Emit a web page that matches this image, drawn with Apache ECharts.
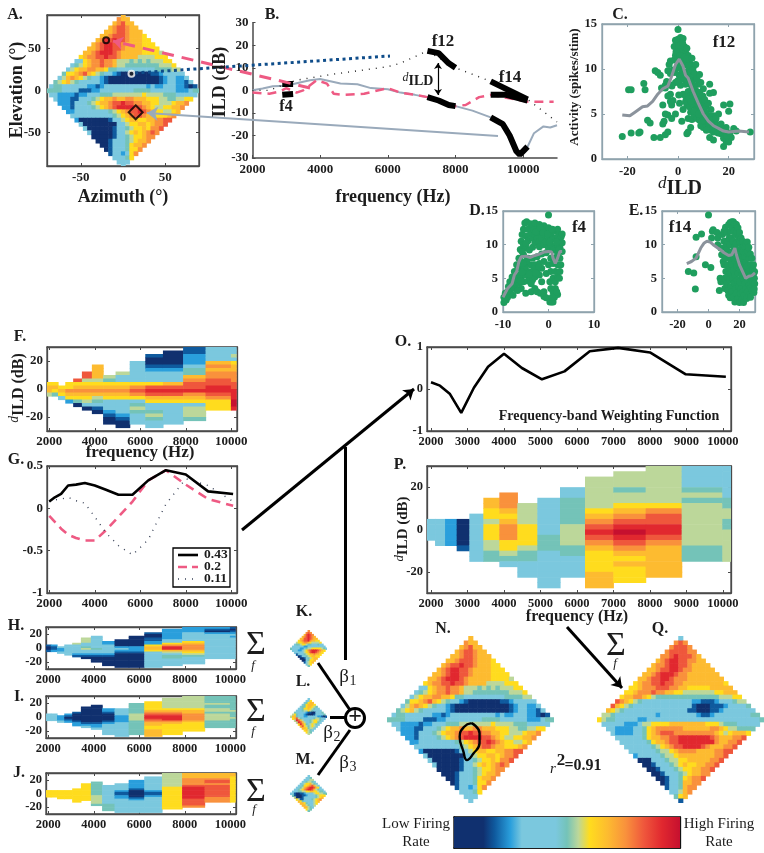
<!DOCTYPE html>
<html><head><meta charset="utf-8">
<style>html,body{margin:0;padding:0;background:#fff}#c{width:764px;height:853px;filter:blur(0.4px)}</style>
<script src="https://cdn.jsdelivr.net/npm/echarts@6/dist/echarts.min.js"></script>
</head><body><div id="c"></div>
<script>
// ---------- DATA ----------
var palette=['#10306f','#0f5a9e','#2a9fdc','#7bc8de','#74c3b8','#bcd79a','#ffdc1e','#fdbb30','#f9913c','#ef573c','#e1282f','#c6102f'];
var bandCenters=[2000,2245,2520,2828,3175,3563,4000,4490,5040,5657,6350,7127,8000,8980,10079];
var bandEdges=[1880,2110,2384,2703,3050,3434,3872,4365,4913,5534,6219,6995,7881,8868,9982,10210];
// spatial maps: rows from elevation +90 to -90
var mapA=["7","877","78977","7899877","778998777","77899987776","7899a99877766","789aa9987777666","7789aa99877776666","7789aaa987777766665","678899a99877775555666",
"33678898875554545455566","3456788988755444444445556","356778877644333333333444455","46678976543321000000011233333",
"3578765433210000000000001233223","456754333332100000000000012332213","34433333322123333333333232233322101","4444333311122333333334444333333222344",
"33222212233344455555556555544433333","322211333456778778877766655445566","2221333456778 99a99887766555 6778".replace(/ /g,''),"22133334567 89aaaa99876 5566778".replace(/ /g,''),"22333333334567899a987665567","3333333333456789987766678",
"20000000133567766778899","300000000335667767889","3000000133456676889","30000013356767898","000001334566788","0001333456778","00133346778","013334668","1332368","33346","333","3"];
var mapQ=["3","898","89998","8999988","889a99987","789aa998877","7889aa9987777","77899aa98877777","7789aaa9887777777","77899aa988877777777","678899a99887777777776",
"66788899988776666677777","6678889887766555555566777","677887654444444444444455566","98765433333333333221112333455",
"9765433333333333331000111233334","7654333333333333331100011233333","55433333333323333333321123333333 34".replace(/ /g,''),"6544333332233333333333333333333333334",
"33333222355666677777777666544433333","332222334678888887777778876554444","3222233467899988888888876567776","33333346778899aaaaaaa98777889",
"3333334677899aaaaaaaa877889","3333334567899aaaa98777889","33333345567888877778899","233333455677777777889",
"0003334556677777889","00133345676677889","001333456677889","0013334567788","00133467889","013347788","1334788","33578","467","1"];
var mapK=["8","898","79a98","789a987","7799a9877","67899a87766","5667887655556","344566544333433","33333322333333333","4333322345566666543","33322356 89aaa9876".replace(/ /g,''),"333335679aa9876","1333456778776","01334567766","001345677","0034667","13567","356","4"];
var mapL=["3","336","34677","3467776","344677654","33466765433","3334556543333","433333211003334","56433321000133334","5774333223333322101","67954333333455433","5a9753334566543","5a97533456643","6a864356543","796545653","7764553","67543","654","5"];
var mapM=["3","334","33355","3345543","335667543","33466789753","3345789aa9763","33456 89aa975433".replace(/ /g,''),"33344556677665443","3310011233335665544","41000112333345666","500013333334567","6511333345678","76433333567","776433356","7754335","77543","654","4"];
// spectral panels: one string per band, cells of 2.5 dB from +30 to -30
var specF=["..........6775..........","..........6764..........","...........6763.........","..........668762........",".........96787640.......",".......99567876530......",".....77775678754310.....","........54678763332100..",".......5336787633332100.","....333333689863454333..","..1001233369a9763345433.",".00001233379a976333333..","112223447899a87635554...","33337878899aa98666......","335367788899aaabba......"];
var specH=["..........1001..........","..........2112..........","...........3223.........","..........333333........",".........53333321.......","......555334533210......",".....333333343321000....","........22333332100000..",".......0000232100000000.",".....000000222100000000.","...10011226776333333333.",".2222223368aa753443333..","222333336788876543333...","210233333333333333......","101232333333333333......"];
var specI=["..........3333..........","..........3333..........","...........2223.........","..........21012.........",".........10000122.......","......000000000123......",".....00000000001223.....",".......221000012333333..",".......3333222233333333.","....444444555544444444..","...66666789aa9877667777.",".5555556789aaa87666666..","55555556778888766666....","444454455455554444......","444444445444544444......"];
var specJ=["..........6666..........","..........6666..........","..........66666.........","..........66666.........",".........66666666.......","......6666666666........",".....44444444555554.....",".......333333333334444..","......33332112233333333.","....2222210000123333333.","..333333332112333333333.","555555556666666666666...","77788889aaaaaaa99998....","77789989999999888.......","77666666666666666......."];
var specP=["..........3333..........","..........33333.........","..........22222.........","..........000001........",".........333333333......","......776656665544......",".....88876788866543.....",".......55556666544333...","......33333334443333333.","....33444445555443333...","..5555556789a9876666777.",".5554556789aba98767666..","55555556899aa98777777...","333345455555555444......","333333445544555555......"];
// weighting functions
var basisBlack=[.08,.13,.17,.27,.28,.30,.27,.22,.16,.16,.33,.45,.40,.20,.17];
var basisPink=[-.09,-.16,-.24,-.31,-.35,-.38,-.38,-.26,-.10,.08,.33,.45,.28,.11,.03];
var basisDot=[.08,.10,.11,.13,.09,.06,-.10,-.29,-.44,-.55,-.37,.05,.35,.27,.08];
var weighting=[.16,.08,-.12,-.57,.03,.53,.84,.50,.23,.42,.90,.98,.87,.35,.29];
var legendNames=['0.43','0.2','0.11'];
// panel B spectra
var ildGray=[[2000,0],[2300,.8],[2600,1.8],[3000,2],[3400,3.5],[3700,4.5],[4000,5],[4300,4],[4600,3],[5100,2.7],[5500,1],[6000,.5],[6370,-1],[6800,-2],[7170,-3],[7500,-4.5],[7800,-6.5],[8000,-7],[8500,-9],[9040,-12],[9400,-15],[9600,-20],[9800,-27],[9900,-28.5],[10130,-25],[10320,-19],[10600,-16],[10800,-16.5],[11000,-15.5]];
var ildPink=[[2000,-1],[2500,-1.5],[2800,-.5],[3000,1],[3300,-1],[3500,0],[3900,4.5],[4200,3],[4400,-1.5],[4700,-2],[5300,-1.5],[6000,1],[6370,-1],[6800,-2],[7170,-3],[8000,-7],[8300,-6.5],[8700,-3],[9040,-2],[10130,-5],[10400,-5],[10900,-5]];
var ildDot=[[2000,0],[2500,0],[3000,3],[3300,4.5],[4400,7.2],[6000,10.5],[6370,12],[7170,17.5],[8000,10],[9040,4],[10130,-4],[11000,-14]];
var segF4a=[[2880,2.8],[3200,2.8]], segF4b=[[2880,-2],[3200,-1.6]];
var segF12a=[[7170,17.5],[7500,16.5],[7800,12],[8000,10]], segF12b=[[7170,-3],[7500,-4.5],[7800,-6.5],[8000,-7]];
var segF14a=[[9040,4],[10130,-4]], segF14b=[[9040,-2],[9500,-2],[10130,-4.5]], segF14c=[[9040,-12],[9400,-15],[9600,-20],[9800,-27],[9900,-28.5],[10130,-25]];
// scatter panels
var scatterC=[[-22,2.5],[-18.5,2.9],[-15.5,2.9],[-15,3],[-19.5,7.7],[-18.5,7.7],[-13.5,8.4],[-13,7.7],[-12,4.3],[-11,4],[-9.5,2.4],[-9,9.8],[-8,9.6],[-7,9.3],[-7,2.4],[-6,6],[-6,3.9],[-5,2.7],[-5.5,4.2],[-5,7.9],[-5,5],[-4.5,8.6],[-4,4.9],[-4,3],[-3.5,10.5],[-3,10.9],[-3,9.5],[-3,7.2],[-2.5,6],[-2.5,4.5],[-2,6.5],[-2,9.9],[-1.5,11],[-1,11.5],[-1,8.5],[-1,5],[-4,7],[-3,6.4],[-4,9.8],[-5,8.2],[-6.5,7.9],[0,14.4],[-1,13.2],[-.5,12.8],[0,13.3],[.5,13],[1,13.5],[1.5,12.8],[2,13.4],[-.5,12],[.5,12.2],[1.5,11.8],[2,12.2],[2.5,12.5],[3,11.8],[0,11],[1,10.5],[2,10.8],[3,10.5],[4,11.5],[4.5,11],[5,10.5],[3,9.5],[4,9.8],[5,9.6],[6,10.2],[.5,9.3],[1,8.2],[2,8.9],[3,8.3],[4,8.5],[5,8.3],[6,8.8],[7,9.2],[8,8.3],[9,8.5],[2,7.2],[3,7],[4,7.5],[5,7],[6,7.2],[7,7.6],[8,7],[9.5,6.9],[12.5,8.3],[12.5,7.3],[14,7.4],[10,7.8],[3.5,6],[4.5,5.8],[5,5.2],[6,6],[7,5.5],[8,6],[9,5.5],[10,6],[11,5.8],[12,6.2],[13,5.5],[14,4.8],[2,5.5],[1.5,4.2],[4,4.5],[5,3.5],[4,3],[3.5,2.8],[5.5,4.4],[6.5,4.8],[7.5,4.5],[8.5,4.3],[9.5,4.8],[10.5,5],[11.5,4.5],[12.5,4.8],[13.5,4],[14.5,4.3],[15.5,3.8],[9,3.7],[10,3.5],[11,3.8],[12,3.5],[13,3.2],[14,3],[15,3.2],[16,3.5],[12.5,2.4],[14,2.1],[17,2.8],[18,2.3],[18,1.4],[19,2],[20,1.9],[21,2.4],[22,3.4],[23,3.1],[18,6],[20.5,6.1],[20,5.3],[16,5],[19,3.5],[28.5,3],
[-1.5,12.5],[-.8,11.9],[.8,11.5],[1.2,11],[2.5,11.3],[3.5,12.3],[3.5,11.1],[4.2,10.4],[5.5,11.2],[5.8,9.9],[6.5,9.5],[7,10.5],[7.5,8.9],[8.5,9.4],[1.5,9.9],[2.5,9.4],[3.5,8.9],[4.5,9],[5.5,7.9],[6.5,8.1],[7.5,6.5],[8.5,7.4],[9,6.3],[9.8,7],[10.5,6.6],[11,5.1],[3,6.4],[4.2,6.7],[5.2,6.4],[6.4,5.3],[7.2,6.6],[8.2,5],[9.4,4.2],[10.2,4.3],[11.2,3.2],[12.2,4.1],[13,4.4],[14.2,3.6],[15,4.5],[15.8,2.9],[16.5,3],[17.5,3.2],[17,3.9],[19.2,2.6],[20.5,2.9],[.2,12.6],[.9,12.6],[1.8,12.9],[-.2,10.1],[-.1,8.7],[.3,7.1],[.6,6.2],[-1.2,9.6],[-2.4,8.1],[-3.5,8.3]];
var curveC=[[-22,4.9],[-19,4.8],[-17,5.2],[-14,5.8],[-12,5.9],[-10,6.4],[-8,7.2],[-6,7.8],[-4,8.1],[-2.5,9.2],[-1,10.5],[.5,11.1],[2,10.3],[3,9.3],[4,9],[6,7.5],[8,6.2],[10,5],[12,4.2],[14,3.7],[16,3.4],[18,3.1],[20,3],[24,3.1],[28,3]];
var scatterD=[[-9.8,1.4],[-9.8,2.2],[-9.5,2.8],[-9.3,1.8],[-9,3],[-9,2.2],[-8.8,3.8],[-8.5,3],[-8.5,4.5],[-8,5.2],[-8,4],[-7.8,2.5],[-7.5,6],[-7.5,3.5],[-7.2,5],[-7,7],[-7,4.2],[-6.8,5.5],[-6.5,8],[-6.5,6.5],[-6.5,4.3],[-6.2,9.3],[-6,10.5],[-6,7.5],[-6,5.2],[-6,3.5],[-5.8,11.5],[-5.5,12.3],[-5.5,10],[-5.5,8.5],[-5.5,6.3],[-5.5,4.5],[-5.2,13.2],[-5,11.3],[-5,9.5],[-5,7],[-5,5.5],[-5,2.8],[-4.8,13.4],[-4.5,12.3],[-4.5,10.6],[-4.5,8],[-4.5,6],[-4.5,4.6],[-4,13.1],[-4,11.5],[-4,7],[-4,5],[-3.8,3],[-3.5,12.7],[-3.5,11],[-3.5,9.6],[-3.5,8],[-3.5,6],[-3.5,4.8],[-3,13.2],[-3,11.5],[-3,10.3],[-3,7],[-3,5.2],[-3,3.5],[-2.5,12.5],[-2.5,11],[-2.5,8.2],[-2.5,6.2],[-2.5,3],[-2,13],[-2,11.8],[-2,10.5],[-2,9.7],[-2,7.2],[-2,5.5],[-1.8,2.8],[-1.5,12.3],[-1.5,11],[-1.5,8.6],[-1.5,6.5],[-1.5,4.5],[-1,12.8],[-1,11.5],[-1,10],[-1,7.5],[-1,3],[-1,2.3],[-.5,12],[-.5,10.5],[-.5,8.8],[-.5,5.7],[-.5,2.1],[0,14.4],[0,12.5],[0,11],[0,9.5],[0,7],[.3,4.5],[.3,1.5],[.5,11.5],[.5,10],[.5,8],[.5,6],[.5,3.5],[.7,1.5],[1,12.2],[1,10.8],[1,9.2],[1,7.2],[1,5],[1,3],[1,1.5],[1.3,2.2],[1.5,12],[1.5,11],[1.5,9.5],[1.5,8],[1.5,6],[1.5,4.5],[1.5,3.5],[2,12.3],[2,11],[2,10],[2,8.6],[2,7],[2,5.2],[2,2.6],[2.3,11.5],[2.5,10.8],[2.5,9.6],[2.5,8],[2.5,6],[2.8,11.2],[3,10.3],[3,9],[3,11.6],[-7.5,4.8],[-6.8,3.2],
[-5.2,6.7],[-4.8,7.6],[-4.2,5.6],[-3.2,6.4],[-3.8,4.2],[-6.2,4.6],[-5.8,5.9],[-5.6,7.2],[-5.8,9],[-4.9,10.2],[-4.2,9.2],[-3.2,12.2],[-2.8,11.9],[-1.8,12.5],[-1.2,11.8],[-.2,11.6],[.2,10.4],[.8,12.3],[1.8,10.4],[2.2,9.2],[2.7,7],[2.4,5],[1.8,3],[.8,2.2],[-2.2,6.7],[-2.8,5.8]];
var curveD=[[-10,2.2],[-9,3.5],[-8,4.2],[-7.5,5.5],[-7,6],[-6.5,7.5],[-6,8.2],[-5,8.3],[-4,8.1],[-3,8.4],[-2,8.6],[-1,8.9],[0,9],[.7,8.9],[1,8],[1.5,7.2],[2,8],[2.5,9],[3,9]];
var scatterE=[[-13,6],[-9.5,5.8],[-8.5,3.4],[-8,8.2],[-8,11.1],[-4.5,11.6],[-2,7],[0,14.4],[1.5,6.6],[2,11],[2.5,12],[3,12.2],[5.5,11.8],[6,11],[6,10],[7,3.2],[8,4.5],[7.5,5],[8,9.5],[8.5,8.5],[9,11.5],[9.5,7.5],[10,12],[10,10.5],[10,7],[10.5,5],[10.5,3.5],[11,12.6],[11.4,9.8],[10.8,8],[11.2,6],[11.6,4.2],[12,11.8],[12.4,10.6],[11.8,9.2],[12.3,7],[12.1,5.2],[12.5,3.2],[13,13],[13.4,11],[12.9,8.5],[13.2,6.5],[13.6,4.8],[13,2.5],[14,13.3],[14.3,12],[13.9,10],[14.4,7.8],[14.1,5.8],[14.5,3.8],[14,2.1],[15,13.4],[15.4,12.5],[14.8,11],[15.3,9],[15.1,7],[15.5,5],[15.2,3],[16,13.4],[16.4,12],[15.9,10.5],[16.3,8.2],[16.1,6.2],[16.6,4.3],[16,2.2],[17,13.1],[17.5,11.5],[16.8,9.6],[17.3,7.5],[17.1,5.5],[17.6,3.5],[17,1.5],[18,13],[18.4,12],[17.9,10.2],[18.3,8.8],[18.1,6.8],[18.6,4.7],[18,2.8],[19,12.5],[19.4,11],[18.9,9.3],[19.3,7.6],[19.1,5.8],[19.6,3.8],[19,2],[20,11.8],[20.4,10.3],[19.9,8.5],[20.3,6.3],[20.1,4.5],[20.6,2.8],[20,1.4],[21,11],[21.4,9.5],[20.9,7.7],[21.3,5.4],[21.1,3.5],[21.6,1.9],[22,10.5],[22.4,9],[21.9,7],[22.3,5],[22.1,3],[22.6,1.4],[23,9.8],[23.4,8.2],[22.9,6.2],[23.3,4.2],[23.1,2.5],[24,10.2],[24.4,8.8],[23.9,7.3],[24.3,5.3],[24.1,3.4],[24.6,2],[25,10.4],[25.4,9],[24.9,6.8],[25.3,4.6],[25.1,3],[26,9.6],[26.4,8],[25.9,6],[26.3,4],[26.1,2.5],[27,8.6],[27.4,7],[26.9,5.4],[27.3,3.6],[27.1,2.2],[28,8],[28.4,6.4],[27.9,5],[28.3,3.2],[29,7],[29.3,5.8],[28.9,4.4],[29.3,2.9],[29.7,6],[29.6,5],[29.8,4.2],[29.5,3.4]];
var curveE=[[-14,7.2],[-11,7.5],[-8,8],[-5,9.5],[-3,10.2],[-1,10.5],[1,10.4],[3,10],[6,9.5],[8,9.2],[10,8.8],[11,8.6],[13,8.4],[15,8.5],[16,8.3],[17,9.5],[18,8.5],[20,7],[22,6],[24,5],[26,5.3],[28,5.4],[30,5.8]];
var markers=[[-20,60],[10,20],[15,-26]];
var contourN=[[1.3,-4],[10,-15],[10,-26],[3,-38],[-4,-45],[-8,-35],[-12,-19],[-7,-8],[1.3,-4]];
var colorbarStops=[[0,0],[.13,0],[.18,1],[.25,2],[.3,3],[.45,3],[.5,4],[.55,5],[.6,6],[.68,7],[.76,8],[.84,9],[.92,10],[1,11]];
var colorbarTicks=[.143,.3,.455,.61,.765,.925];

// ---------- LAYOUT & HELPERS ----------
var SERIF='"Liberation Serif","DejaVu Serif",serif', INK='#1c1c1c', FRAME='#4a4a4a', SLATE='#8fa3ad';
var grids=[],xAxes=[],yAxes=[],series=[],graphics=[],mirrors=[];
var f2k=[2000,4000,6000,8000,10000], f1k=[2000,3000,4000,5000,6000,7000,8000,9000,10000];
function axis(min,max,ticks,opt){opt=opt||{};var c=opt.color||FRAME;return {type:'value',min:min,max:max,inverse:!!opt.inverse,show:opt.show!==false,position:opt.position,
  axisLine:{show:true,onZero:false,lineStyle:{color:c,width:opt.lw||1.3}},
  axisTick:{show:true,inside:true,length:opt.tick||3,customValues:ticks,lineStyle:{color:c}},
  axisLabel:{show:opt.labels!==false,customValues:ticks,margin:opt.margin==null?4:opt.margin,fontFamily:SERIF,fontWeight:'bold',fontSize:opt.fs||12.5,color:INK,formatter:function(v){return String(v)}},
  splitLine:{show:false}};}
function panel(r,xa,ya,borderColor){var i=grids.length;
  grids.push({left:r[0],top:r[1],width:r[2]-r[0],height:r[3]-r[1],show:!!borderColor,borderColor:borderColor||'transparent',borderWidth:1.3,backgroundColor:'transparent',containLabel:false});
  xa.gridIndex=i;ya.gridIndex=i;xAxes.push(xa);yAxes.push(ya);
  if(borderColor)mirrors.push(i);
  return i;}
function cellRender(p,api){var a=api.coord([api.value(0),api.value(2)]),b=api.coord([api.value(1),api.value(3)]);
  return {type:'rect',shape:{x:a[0],y:a[1],width:b[0]-a[0]+.6,height:b[1]-a[1]+.6},style:{fill:palette[api.value(4)]}};}
function cells(i,data){series.push({type:'custom',xAxisIndex:i,yAxisIndex:i,clip:true,silent:true,animation:false,renderItem:cellRender,encode:{x:[0,1],y:[2,3]},data:data});}
function diamondCells(rows,step){var out=[];rows.forEach(function(s,r){var e=90-r*step,h=90-Math.abs(e),n=2*h/step+1;
  for(var j=0;j<n;j++){var ch=s[j]||s[s.length-1],az=-h+j*step;out.push([az-step/2,az+step/2,e+step/2,e-step/2,parseInt(ch,16)]);}});return out;}
function specCells(cols){var out=[];cols.forEach(function(s,b){for(var k=0;k<24;k++){var ch=s[k];if(!ch||ch=='.')continue;
  out.push([bandEdges[b],bandEdges[b+1],30-2.5*k,30-2.5*(k+1),parseInt(ch,16)]);}});return out;}
function line(i,data,color,width,type,name,z){series.push({type:'line',name:name,xAxisIndex:i,yAxisIndex:i,data:data,showSymbol:false,symbol:'none',silent:true,animation:false,z:z||3,
  lineStyle:{color:color,width:width,type:type||'solid',cap:'butt'},itemStyle:{color:color}});}
function withBands(v){return bandCenters.map(function(f,i){return [f,v[i]]});}
function txt(s,x,y,o){o=o||{};graphics.push({type:'text',x:x,y:y,rotation:o.rot||0,z:100,silent:true,style:{text:s,fill:o.fill||INK,textAlign:o.align||'center',textVerticalAlign:'middle',rich:o.rich,
  font:(o.italic?'italic ':'')+(o.weight||'bold')+' '+(o.fs||16)+'px '+SERIF}});}
function dIld(x,y,fs,tail,rot){var rich={d:{fontFamily:SERIF,fontStyle:'italic',fontSize:fs*.85,verticalAlign:'top',fill:INK,lineHeight:fs*1.2},i:{fontFamily:SERIF,fontWeight:'bold',fontSize:fs,verticalAlign:'bottom',fill:INK,lineHeight:fs*1.2}};
  txt('{d|d}{i|ILD'+(tail||'')+'}',x,y,{rich:rich,rot:rot||0,fs:fs});}
function seg(x1,y1,x2,y2,stroke,lw){graphics.push({type:'line',z:101,silent:true,shape:{x1:x1,y1:y1,x2:x2,y2:y2},style:{stroke:stroke,lineWidth:lw.w,lineDash:lw.d||null}});}

// ---------- PANELS ----------
// A
var pA=panel([47,15,199,166],axis(-90,90,[-50,0,50],{fs:13,margin:5}),axis(-90,90,[-50,0,50],{fs:13,margin:6}),FRAME);
cells(pA,diamondCells(mapA,5));
series.push({type:'scatter',xAxisIndex:pA,yAxisIndex:pA,silent:true,animation:false,z:6,data:[
 {value:markers[0],symbol:'circle',symbolSize:6,itemStyle:{color:'#e1282f',borderColor:'#000',borderWidth:2}},
 {value:markers[1],symbol:'circle',symbolSize:6,itemStyle:{color:'#222',borderColor:'#fff',borderWidth:2}},
 {value:markers[2],symbol:'diamond',symbolSize:14,itemStyle:{color:'rgba(0,0,0,0)',borderColor:'#000',borderWidth:2}}]});
// B
var pB=panel([252.5,22.7,557,158],axis(2000,11000,f2k,{fs:13,margin:5,lw:1.5}),axis(-30,30,[-30,-20,-10,0,10,20,30],{fs:13,margin:4,lw:1.5}));
line(pB,ildGray,'#9aaabb',2);
line(pB,ildPink,'#ee5a83',2.5,[9,6]);
line(pB,ildDot,'#222',1.4,[1,6]);
[segF4a,segF4b,segF12a,segF12b,segF14a,segF14b,segF14c].forEach(function(s){line(pB,s,'#000',6,'solid',undefined,5);});
// C D E
function scatPanel(r,xmin,xmax,xt,pts,curve){var p=panel(r,axis(xmin,xmax,xt,{color:SLATE,fs:12.5,margin:6}),axis(0,15,[0,5,10,15],{color:SLATE,fs:12.5,margin:5}),SLATE);
  series.push({type:'scatter',xAxisIndex:p,yAxisIndex:p,data:pts,symbolSize:7,silent:true,animation:false,itemStyle:{color:'#1f9e5e',opacity:1}});
  line(p,curve,'#8b939c',3,'solid',undefined,4);}
scatPanel([602,24,754,159],-30,30,[-20,0,20],scatterC,curveC);
scatPanel([503,211,594,312],-10,10,[-10,0,10],scatterD,curveD);
scatPanel([662,211,755,312],-30,30,[-20,0,20],scatterE,curveE);
// F H I J P
function specPanel(r,cols,xmin,xmax,xt,yt,fs){var p=panel(r,axis(xmin,xmax,xt,{fs:fs||12.5}),axis(-30,30,yt,{fs:fs||12.5}),FRAME);cells(p,specCells(cols));return p;}
specPanel([47,347,237,431],specF,1900,10250,f2k,[-20,0,20],13);
specPanel([46,627,236,669],specH,1900,10250,f2k,[-20,0,20],12.5);
specPanel([46,696,236,738],specI,1900,10250,f2k,[-20,0,20],12.5);
specPanel([46,773,236,814],specJ,1900,10250,f2k,[-20,0,20],12.5);
specPanel([427,466,731,593],specP,1890,10220,f1k,[-20,0,20],12.5);
// G
var pG=panel([47,466,237,593],axis(1900,10250,f2k,{fs:13}),axis(-1,.5,[-1,-.5,0,.5],{fs:13}),FRAME);
line(pG,withBands(basisBlack),'#000',2.6,'solid',legendNames[0],4);
line(pG,withBands(basisPink),'#ee5a83',2.6,[9,6],legendNames[1],3);
line(pG,withBands(basisDot),'#3a4358',1.4,[1,6],legendNames[2],3);
// O
var pO=panel([427,347,731,431],axis(1890,10220,f1k,{fs:12.5}),axis(-1,1,[-1,0,1],{fs:12.5}),FRAME);
line(pO,withBands(weighting),'#000',2.6);
// diamonds
function diamond(cx,cy,half,rows,step){var d=step/2,p=panel([cx-half,cy-half,cx+half,cy+half],axis(-90-d,90+d,[],{show:false}),axis(-90-d,90+d,[],{show:false}));cells(p,diamondCells(rows,step));return p;}
var pN=diamond(470.5,719.5,83.5,mapA,5);
diamond(680.5,719.5,83.5,mapQ,5);
diamond(308.5,648.5,18.5,mapK,10);
diamond(308.5,716.5,18.5,mapL,10);
diamond(308.5,793.5,18.5,mapM,10);
line(pN,contourN,'#000',2.4,'solid',undefined,6);
series[series.length-1].smooth=true;
// colour bar
var pBar=panel([454,817,680,848],axis(0,1,colorbarTicks,{labels:false,color:'#111',tick:3,lw:1.5}),axis(0,1,[],{labels:false,color:'#111'}),'#111');
series.push({type:'custom',xAxisIndex:pBar,yAxisIndex:pBar,silent:true,animation:false,encode:{x:0,y:1},data:[[0,0]],renderItem:function(p,api){
  var a=api.coord([0,1]),b=api.coord([1,0]);
  return {type:'rect',shape:{x:a[0],y:a[1],width:b[0]-a[0],height:b[1]-a[1]},style:{fill:new echarts.graphic.LinearGradient(0,0,1,0,colorbarStops.map(function(s){return {offset:s[0],color:palette[s[1]]}}))}};}});
// overlay for connectors: pixel-scale hidden axes
var pOv=panel([0,0,764,853],axis(0,764,[],{show:false}),axis(0,853,[],{show:false,inverse:true}));
function conn(pts,color,width,type,sym,size){series.push({type:'lines',coordinateSystem:'cartesian2d',xAxisIndex:pOv,yAxisIndex:pOv,silent:true,animation:false,z:20,symbol:sym||['none','none'],symbolSize:size||9,
  lineStyle:{color:color,width:width,type:type||'solid',opacity:1},data:[{coords:pts}]});}
var connPink=[[310,88],[113,41]],connBlue=[[135,73],[390,56]],connGray=[[498,136],[147,113]];
var connMain=[[242,530],[414,389]],connStem=[[345,447],[345,660]],connK=[[318,663],[350,710]],connL=[[330,717],[345,717]],connM=[[318,775],[350,730]],connPQ=[[567,627],[622,688]],connD=[[438,63],[438,95]];
conn(connPink,'#ee5a83',3,[12,8],['none','arrow'],10);
conn(connBlue,'#0f4d8a',3,[3,3.5]);
conn(connGray,'#9aaabb',2,'solid',['none','arrow'],11);
conn(connMain,'#000',3,'solid',['none','arrow'],10);
conn(connStem,'#000',3);conn(connK,'#000',3);conn(connL,'#000',3);conn(connM,'#000',3);
conn(connPQ,'#000',3,'solid',['none','arrow'],10);
conn(connD,'#000',1.2,'solid',['arrow','arrow'],6);
// mirrored inward ticks on the top and right of framed panels
mirrors.forEach(function(i){var xa=xAxes[i],ya=yAxes[i];
  [[xAxes,xa,'top'],[yAxes,ya,'right']].forEach(function(t){var src=t[1],m=axis(src.min,src.max,src.axisTick.customValues,{labels:false,color:src.axisTick.lineStyle.color,position:t[2],tick:3});m.gridIndex=i;t[0].push(m);});});

// ---------- TEXT ----------
var letters=[['A.',15,15],['B.',272,15],['C.',620,15],['D.',477,211],['E.',636,211],['F.',20,337],['G.',16,460],['H.',16,626],['I.',19,697],['J.',19,773],['K.',304,612],['L.',303,682],['M.',305,760],['N.',443,629],['Q.',660,629],['O.',403,342],['P.',400,465]];
letters.forEach(function(l){txt(l[0],l[1],l[2],{fs:16});});
txt('Elevation (°)',17,90,{rot:Math.PI/2,fs:18});
txt('Azimuth (°)',123,197,{fs:18});
txt('ILD (dB)',220,82,{rot:Math.PI/2,fs:18});
txt('frequency (Hz)',393,197,{fs:18});
txt('f4',286,107,{fs:16});txt('f12',443,42,{fs:17});txt('f14',510,78,{fs:17});
dIld(418,80,14);
txt('Activity (spikes/stim)',575,87,{rot:Math.PI/2,fs:13});
txt('f12',724,43,{fs:17});txt('f4',579,228,{fs:17});txt('f14',680,228,{fs:17});
dIld(680,187,20);
txt('frequency (Hz)',140,453,{fs:17});
dIld(17,388,16,' (dB)',Math.PI/2);
txt('Frequency-band Weighting Function',609,416,{fs:14});
dIld(402,529,15,' (dB)',Math.PI/2);
txt('frequency (Hz)',577,617,{fs:16});
[[256,645,253,666],[256,712,253,732],[256,792,254,810],[616,646,615,664]].forEach(function(s){
  txt('Σ',s[0],s[1],{fs:34,weight:'normal'});txt('f',s[2],s[3],{fs:13,weight:'normal',italic:true});});
txt('β',344,677,{fs:19,weight:'normal'});txt('1',353,681,{fs:14,weight:'normal'});
txt('β',328,733,{fs:19,weight:'normal'});txt('2',337,737,{fs:14,weight:'normal'});
txt('β',344,763,{fs:19,weight:'normal'});txt('3',353,767,{fs:14,weight:'normal'});
txt('r',553,769,{fs:15,italic:true,weight:'normal'});txt('2',561,761,{fs:17});txt('=0.91',583,766,{fs:16});
txt('Low Firing',416,824,{fs:15,weight:'normal'});txt('Rate',416,842,{fs:15,weight:'normal'});
txt('High Firing',719,824,{fs:15,weight:'normal'});txt('Rate',719,842,{fs:15,weight:'normal'});
graphics.push({type:'circle',shape:{cx:355,cy:718,r:9.5},z:90,silent:true,style:{fill:'#fff',stroke:'#000',lineWidth:3}});
txt('+',355,717,{fs:24});
// legend of panel G
graphics.push({type:'rect',z:99,silent:true,shape:{x:173,y:548,width:57,height:39},style:{fill:'#fff',stroke:'#000',lineWidth:1.3}});
seg(178,555,198,555,'#000',{w:2.6});
seg(178,567,198,567,'#ee5a83',{w:2.6,d:[9,5]});
seg(178,579,198,579,'#3a4358',{w:1.4,d:[1,6]});
legendNames.forEach(function(n,i){txt(n,204,555+12*i,{fs:13.5,align:'left'});});

// ---------- CHART ----------
var chart=echarts.init(document.getElementById('c'),null,{renderer:'canvas'});
chart.setOption({animation:false,backgroundColor:'#fff',grid:grids,xAxis:xAxes,yAxis:yAxes,series:series,graphic:graphics,tooltip:{show:false}});
</script></body></html>
